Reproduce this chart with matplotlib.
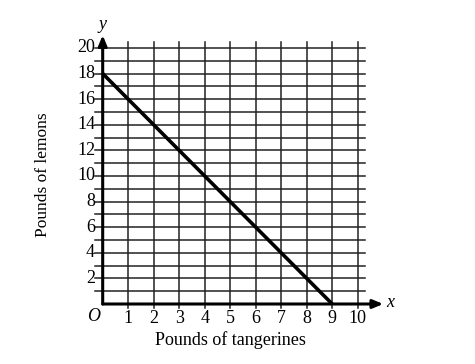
import matplotlib.pyplot as plt

# data
tangerines = [0, 9]
lemons = [18, 0]
x_ticks = [1, 2, 3, 4, 5, 6, 7, 8, 9, 10]
y_ticks = [2, 4, 6, 8, 10, 12, 14, 16, 18, 20]

plt.rcParams['font.family'] = ['Liberation Serif', 'DejaVu Serif']

fig = plt.figure(figsize=(4.75, 3.64), dpi=100)
ax = fig.add_axes([0.1625, 0.0945, 0.698, 0.844])
ax.set_xlim(-1, 12)
ax.set_ylim(-2, 22)
ax.axis('off')

# grid
grid_c = '#222222'
for xv in range(1, 11):
    ax.plot([xv, xv], [-0.35, 20.5], color=grid_c, lw=1.1, zorder=1)
for yv in range(1, 21):
    ax.plot([-0.3, 10.28], [yv, yv], color=grid_c, lw=1.1, zorder=1)

# axes with arrows
ax.annotate('', xy=(11.0, 0), xytext=(0, 0),
            arrowprops=dict(arrowstyle='-|>,head_length=0.6,head_width=0.25',
                            color='black', lw=2.2, shrinkA=0, shrinkB=0), zorder=3)
ax.annotate('', xy=(0, 21.0), xytext=(0, 0),
            arrowprops=dict(arrowstyle='-|>,head_length=0.6,head_width=0.25',
                            color='black', lw=2.2, shrinkA=0, shrinkB=0), zorder=3)

# the line
ax.plot(tangerines, lemons, color='black', lw=2.6, solid_capstyle='butt', zorder=4)

# tick labels
for xv in x_ticks:
    ax.text(xv, -0.5, str(xv), ha='center', va='top', fontsize=13)
for yv in y_ticks:
    ax.text(-0.3, yv, str(yv), ha='right', va='center', fontsize=13)

ax.text(-0.1, -0.3, 'O', ha='right', va='top', fontsize=13, style='italic')
ax.text(11.1, 0.15, 'x', ha='left', va='center', fontsize=13, style='italic')
ax.text(0, 21.2, 'y', ha='center', va='bottom', fontsize=13, style='italic')

ax.text(5, -2.1, 'Pounds of tangerines', ha='center', va='top', fontsize=13)
fig.text(0.09, 0.52, 'Pounds of lemons', ha='center', va='center',
         rotation=90, fontsize=12.5)

fig.savefig('out.png', dpi=100)
